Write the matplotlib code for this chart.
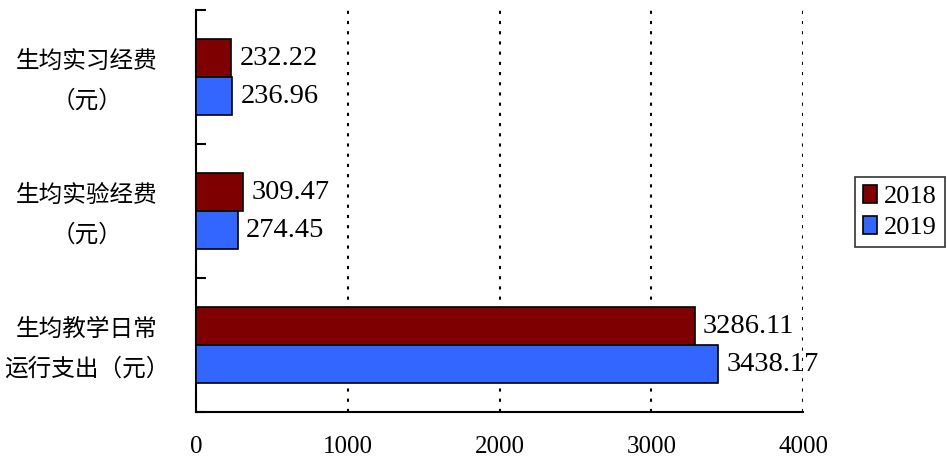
import matplotlib.pyplot as plt
import matplotlib.transforms as mtransforms
import numpy as np

categories = ["生均实习经费\n（元）", "生均实验经费\n（元）", "生均教学日常\n运行支出（元）"]
series_names = ["2018", "2019"]
values_2018 = [232.22, 309.47, 3286.11]
values_2019 = [236.96, 274.45, 3438.17]
x_ticks = [0, 1000, 2000, 3000, 4000]

color_2018 = "#7F0000"
color_2019 = "#3366FF"
num_font = "Liberation Serif"
cjk_font = ["Noto Sans CJK SC", "DejaVu Sans"]

fig = plt.figure(figsize=(9.47, 4.63), dpi=100)
ax = fig.add_axes([0.207, 0.110, 0.641, 0.868])

# top category first
pos = np.arange(len(categories))[::-1].astype(float)
h = 0.283
b1 = ax.barh(pos + h / 2, values_2018, height=h, color=color_2018,
             edgecolor="black", linewidth=1.2, label=series_names[0], zorder=3)
b2 = ax.barh(pos - h / 2, values_2019, height=h, color=color_2019,
             edgecolor="black", linewidth=1.2, label=series_names[1], zorder=3)

for bars, vals in [(b1, values_2018), (b2, values_2019)]:
    for bar, v in zip(bars, vals):
        ax.annotate(f"{v:.2f}", (v, bar.get_y() + bar.get_height() / 2),
                    xytext=(6, 0), textcoords="offset points",
                    va="center", ha="left", fontsize=20.5, family=num_font, zorder=5)

ax.set_xlim(0, 4000)
ax.set_ylim(-0.5, 2.5)
ax.set_xticks(x_ticks)
ax.set_xticklabels([str(t) for t in x_ticks], fontsize=18, family=num_font)
ax.tick_params(axis="x", length=0, pad=17)

ax.set_yticks([-0.5, 0.5, 1.5, 2.5])
ax.set_yticklabels([])
ax.tick_params(axis="y", direction="in", length=7, width=1.5)

for s in ["top", "right"]:
    ax.spines[s].set_visible(False)
for s in ["left", "bottom"]:
    ax.spines[s].set_linewidth(1.5)

for t in x_ticks[1:]:
    ax.axvline(t, color="black", linewidth=1.5, linestyle=(0, (1.5, 3.4)), zorder=1)

trans = mtransforms.blended_transform_factory(fig.transFigure, ax.transData)
for p, c in zip(pos, categories):
    ax.text(87 / 947, p - 0.03, c, transform=trans, ha="center", va="center",
            fontsize=17, family=cjk_font, linespacing=1.95, multialignment="center")

leg = fig.legend(handles=[b1, b2], labels=series_names, loc="center left",
                 bbox_to_anchor=(855 / 947, 1 - 212 / 463), frameon=True,
                 fancybox=False, edgecolor="black", handlelength=0.55,
                 handleheight=0.7, handletextpad=0.25, borderpad=0.3,
                 borderaxespad=0, labelspacing=0.3,
                 prop={"family": num_font, "size": 19})
leg.get_frame().set_linewidth(1.2)

fig.savefig("out.png", dpi=100)
